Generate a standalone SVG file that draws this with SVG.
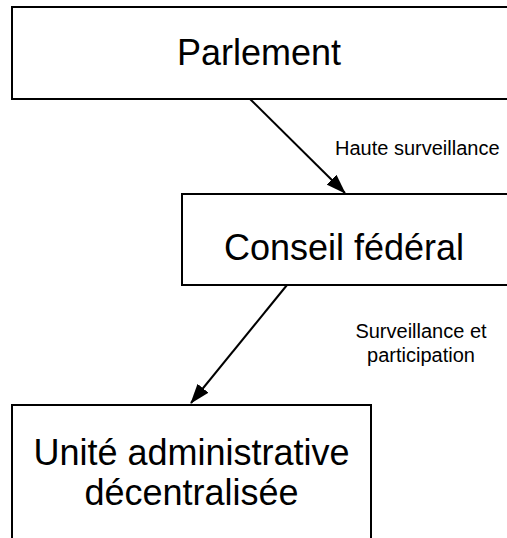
<svg xmlns="http://www.w3.org/2000/svg" width="507" height="538" viewBox="0 0 507 538">
<style>
.box{fill:#fff;stroke:#000;stroke-width:2}
.big{font-family:"Liberation Sans",Arial,sans-serif;font-size:36px;fill:#000;text-anchor:middle}
.small{font-family:"Liberation Sans",Arial,sans-serif;font-size:20px;fill:#000}
.conn{stroke:#000;stroke-width:2;fill:none;marker-end:url(#arr)}
</style>
<defs>
<marker id="arr" markerUnits="userSpaceOnUse" markerWidth="20" markerHeight="14" viewBox="0 0 20 14" refX="19" refY="7" orient="auto">
<path d="M0,0 L20,7 L0,14 z" fill="#000"/>
</marker>
</defs>
<rect width="507" height="538" fill="#fff"/>
<g id="parlement">
<rect class="box" x="12" y="7" width="500" height="92"/>
<text class="big" x="259" y="65">Parlement</text>
</g>
<g id="conseil">
<rect class="box" x="182" y="194" width="330" height="91"/>
<text class="big" x="344" y="260">Conseil fédéral</text>
</g>
<g id="unite">
<rect class="box" x="12" y="405" width="359" height="150"/>
<text class="big" x="191.5" y="465">Unité administrative</text>
<text class="big" x="191.5" y="505">décentralisée</text>
</g>
<g id="connectors">
<line class="conn" x1="250" y1="99" x2="345" y2="193"/>
<line class="conn" x1="287" y1="285" x2="191" y2="403"/>
<text class="small" x="335" y="155">Haute surveillance</text>
<text class="small" x="421" y="338" text-anchor="middle">Surveillance et</text>
<text class="small" x="421" y="362" text-anchor="middle">participation</text>
</g>
</svg>
